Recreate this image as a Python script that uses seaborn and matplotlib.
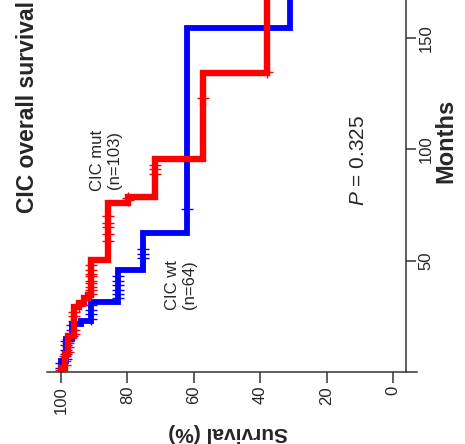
import numpy as np
import pandas as pd
import matplotlib
matplotlib.use("Agg")
import matplotlib.pyplot as plt
import seaborn as sns

# Kaplan-Meier step values (months, survival %)
mut_times = [0, 2, 8, 16, 29, 31, 33, 34.5, 50.4, 76, 78.7, 95.7, 134.3, 180]
mut_surv = [100, 98.8, 98.0, 96.2, 94.6, 93.2, 92.0, 91.0, 85.8, 79.8, 71.7, 57.2, 38.0, 38.0]
wt_times = [0, 5, 15, 21.5, 23, 31.6, 46, 62.6, 154.5, 180]
wt_surv = [100, 98.4, 96.8, 94.0, 91.1, 82.8, 75.3, 62.0, 31.0, 31.0]

# censored observations (months)
mut_censor = [1, 3, 5, 7, 9, 11, 13, 15, 17, 19, 21, 23, 25, 27, 29.5,
              35, 37, 38, 40, 41, 43, 44, 46, 48, 59, 62, 65, 67, 70,
              77, 78, 89, 91, 93, 123, 134.8]
wt_censor = [2, 4, 6, 8, 10, 12, 14, 16, 19, 21, 24, 26, 28, 30,
             33, 35, 37, 39, 41, 43, 51, 53, 55, 73]

surv_ticks = [100, 80, 60, 40, 20, 0]
month_ticks = [50, 100, 150]

RED = "#FF0000"
BLUE = "#0000FF"


def step_path(times, surv):
    xs, ys = [], []
    for i in range(len(times) - 1):
        xs += [surv[i], surv[i]]
        ys += [times[i], times[i + 1]]
    return pd.DataFrame({"surv": xs, "month": ys})


def censor_points(times, surv, censor):
    idx = np.searchsorted(times, censor, side="right") - 1
    return pd.DataFrame({"surv": np.asarray(surv)[idx], "month": censor})


sns.set_style("white")
plt.rcParams["font.family"] = ["Liberation Sans", "DejaVu Sans"]
plt.rcParams["mathtext.fontset"] = "custom"
plt.rcParams["mathtext.rm"] = "Liberation Sans"
plt.rcParams["mathtext.it"] = "Liberation Sans:italic"

fig = plt.figure(figsize=(4.65, 4.44), dpi=100)
ax = fig.add_axes([47 / 465, 1 - 372 / 444, 370 / 465, 372 / 444])

for times, surv, censor, col, lw in [(wt_times, wt_surv, wt_censor, BLUE, 4.2),
                                     (mut_times, mut_surv, mut_censor, RED, 4.6)]:
    sns.lineplot(data=step_path(times, surv), x="surv", y="month", sort=False,
                 estimator=None, color=col, lw=lw, ax=ax,
                 solid_capstyle="butt", solid_joinstyle="miter")
    sns.scatterplot(data=censor_points(times, surv, censor), x="surv", y="month",
                    marker="+", s=80, color=col, linewidth=1.0, ax=ax)

ax.set_xlim(104.2, -7.2)
ax.set_ylim(0, 167)

for side in ["top", "left"]:
    ax.spines[side].set_visible(False)
for side in ["bottom", "right"]:
    ax.spines[side].set_color("#333333")
    ax.spines[side].set_linewidth(1.1)
ax.spines["right"].set_position(("data", -3.9))

ax.set_xticks(surv_ticks)
ax.set_xticklabels([str(v) for v in surv_ticks], rotation=90)
ax.yaxis.tick_right()
ax.set_yticks(month_ticks)
ax.set_yticklabels([str(v) for v in month_ticks], rotation=90, va="center")
ax.tick_params(axis="x", direction="out", length=8, width=1.1, color="#333333",
               labelsize=12, pad=2, bottom=True)
ax.tick_params(axis="y", direction="out", length=7, width=1.1, color="#333333",
               labelsize=12, pad=2, right=True, left=False)
ax.set_xlabel("")
ax.set_ylabel("")

ax.text(86.4, 95, "CIC mut\n(n=103)", rotation=90, ha="center", va="center",
        fontsize=12, linespacing=1.15)
ax.text(63.9, 39.2, "CIC wt\n(n=64)", rotation=90, ha="center", va="center",
        fontsize=12, linespacing=1.15)
ax.text(10.5, 95, r"$P$ = 0.325", rotation=90, ha="center", va="center",
        fontsize=15)

fig.text(446 / 465, 1 - 141 / 444, "Months", rotation=90, ha="center", va="center",
         fontsize=17, fontweight="bold")
fig.text(228 / 465, 1 - 432 / 444, "Survival (%)", rotation=180, ha="center",
         va="center", fontsize=15, fontweight="bold")
fig.text(27 / 465, 1 - 213 / 444, "CIC overall survival", rotation=90,
         ha="center", va="bottom", fontsize=16.5, fontweight="bold")

fig.savefig("out.png", dpi=100)
